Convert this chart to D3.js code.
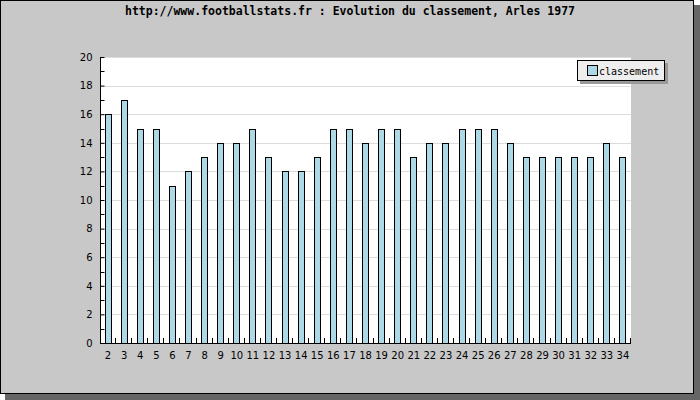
<!DOCTYPE html>
<html><head><meta charset="utf-8">
<script src="https://cdn.jsdelivr.net/npm/d3@7"></script>
<style>body{margin:0;background:#fff}svg{display:block}</style>
</head><body><svg id="c" width="700" height="400"></svg>
<script>
const categories = ["2","3","4","5","6","7","8","9","10","11","12","13","14","15","16","17","18","19","20","21","22","23","24","25","26","27","28","29","30","31","32","33","34"];
const classement = [16,17,15,15,11,12,13,14,14,15,13,12,12,13,15,15,14,15,15,13,14,14,15,15,15,14,13,13,13,13,13,14,13];
const yTicks = [0,2,4,6,8,10,12,14,16,18,20];
const title = "http://www.footballstats.fr : Evolution du classement, Arles 1977";
const seriesName = "classement";

const svg = d3.select("#c");
// shadow and frame
svg.append("rect").attr("x",5).attr("y",5).attr("width",695).attr("height",395).attr("fill","#666");
svg.append("rect").attr("x",0.5).attr("y",0.5).attr("width",693).attr("height",393).attr("fill","#c8c8c8").attr("stroke","#000");

const m = {l:100, r:631, t:57, b:343};
const x = d3.scaleBand().domain(categories).range([m.l, m.r]);
const y = d3.scaleLinear().domain([0,20]).range([m.b, m.t]);

svg.append("rect").attr("x",m.l).attr("y",m.t).attr("width",m.r-m.l).attr("height",m.b-m.t).attr("fill","#fff");

// grid
svg.append("g").selectAll("line").data(yTicks.filter(d=>d>0)).join("line")
  .attr("x1",m.l).attr("x2",m.r).attr("y1",d=>Math.round(y(d))+0.5).attr("y2",d=>Math.round(y(d))+0.5)
  .attr("stroke","#dcdcdc");

// bars
const bw = 7;
svg.append("g").selectAll("rect").data(classement).join("rect")
  .attr("x",(d,i)=>Math.round(x(categories[i])+x.bandwidth()/2-bw/2)+0.5)
  .attr("y",d=>Math.round(y(d))+0.5)
  .attr("width",bw-1)
  .attr("height",d=>Math.round(y(0))-Math.round(y(d)))
  .attr("fill","#add8e6").attr("stroke","#000");

// y axis
const ya = svg.append("g").attr("transform",`translate(${m.l+0.5},0)`)
  .call(d3.axisLeft(y).tickValues(yTicks).tickSize(-4).tickPadding(8));
ya.select(".domain").remove();
ya.append("line").attr("x1",0).attr("x2",0).attr("y1",m.t).attr("y2",m.b+1).attr("stroke","#000");
svg.append("g").attr("transform",`translate(${m.l+0.5},0)`).selectAll("line")
  .data(d3.range(1,20,2)).join("line")
  .attr("x1",0).attr("x2",4).attr("y1",d=>Math.round(y(d))+0.5).attr("y2",d=>Math.round(y(d))+0.5).attr("stroke","#000");
ya.selectAll("text").attr("font-family","DejaVu Sans").attr("font-size",10).attr("fill","#000").attr("x",-8);
ya.selectAll(".tick line").attr("stroke","#000");

// x axis
const xa = svg.append("g").attr("transform",`translate(0,${m.b+0.5})`)
  .call(d3.axisBottom(x).tickSize(0).tickPadding(8));
xa.select(".domain").remove();
xa.append("line").attr("x1",m.l).attr("x2",m.r).attr("y1",0).attr("y2",0).attr("stroke","#000");
xa.selectAll("text").attr("font-family","DejaVu Sans").attr("font-size",10).attr("fill","#000");
svg.append("g").selectAll("line").data(categories.slice(1).concat(["end"])).join("line")
  .attr("x1",(d,i)=>Math.round(i<categories.length-1? x(d): m.r)-0.5)
  .attr("x2",(d,i)=>Math.round(i<categories.length-1? x(d): m.r)-0.5)
  .attr("y1",m.b-5).attr("y2",m.b).attr("stroke","#000");

// title
svg.append("text").attr("x",350).attr("y",15).attr("text-anchor","middle")
  .attr("font-family","DejaVu Sans Mono").attr("font-weight","bold").attr("font-size",11.5).text(title);

// legend
const lg = svg.append("g");
lg.append("rect").attr("x",580).attr("y",63).attr("width",88).attr("height",21).attr("fill","#999");
lg.append("rect").attr("x",577.5).attr("y",60.5).attr("width",87).attr("height",20).attr("fill","#eee").attr("stroke","#000");
lg.append("rect").attr("x",587.5).attr("y",65.5).attr("width",10).attr("height",10).attr("fill","#add8e6").attr("stroke","#000");
lg.append("text").attr("x",599).attr("y",74.5).attr("font-family","DejaVu Sans Mono").attr("font-size",10).text(seriesName);
</script></body></html>
